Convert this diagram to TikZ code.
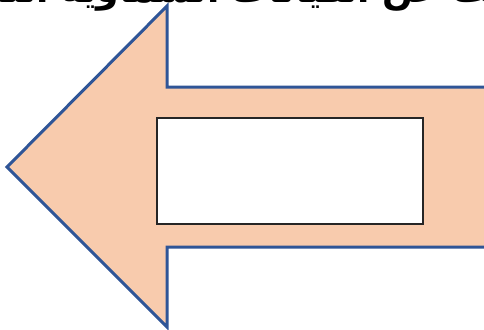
\documentclass[tikz,border=0pt]{standalone}
\usepackage{fontspec}
\newfontfamily\arabicfont[Script=Arabic]{DejaVu Sans}
\TeXXeTstate=1
\definecolor{peach}{HTML}{F8CBAD}
\definecolor{arrowblue}{HTML}{2F5597}
\begin{document}
\begin{tikzpicture}[x=1pt,y=-1pt,
  arrowshape/.style={fill=peach,draw=arrowblue,line width=3pt,line join=miter},
  innerbox/.style={fill=white,draw=black!85,line width=1.6pt},
  titletext/.style={font=\arabicfont\bfseries\fontsize{36}{42}\selectfont,inner sep=0pt,anchor=base}]
\useasboundingbox (0,0) rectangle (484,329);
\clip (0,0) rectangle (484,329);
\coordinate (tip) at (7,167);
\coordinate (headtop) at (167,6);
\coordinate (headbot) at (167,327);
\coordinate (shafttopL) at (167,87);
\coordinate (shaftbotL) at (167,247);
\coordinate (shafttopR) at (490,87);
\coordinate (shaftbotR) at (490,247);
\draw[arrowshape] (tip) -- (headtop) -- (shafttopL) -- (shafttopR) -- (shaftbotR) -- (shaftbotL) -- (headbot) -- cycle;
\node[innerbox,minimum width=266pt,minimum height=106pt,inner sep=0pt] (box) at (290,171) {};
\node[titletext] (title) at (244,3) {\beginR ابحث عن الكيانات السماوية الثلاثة\endR};
\end{tikzpicture}
\end{document}
